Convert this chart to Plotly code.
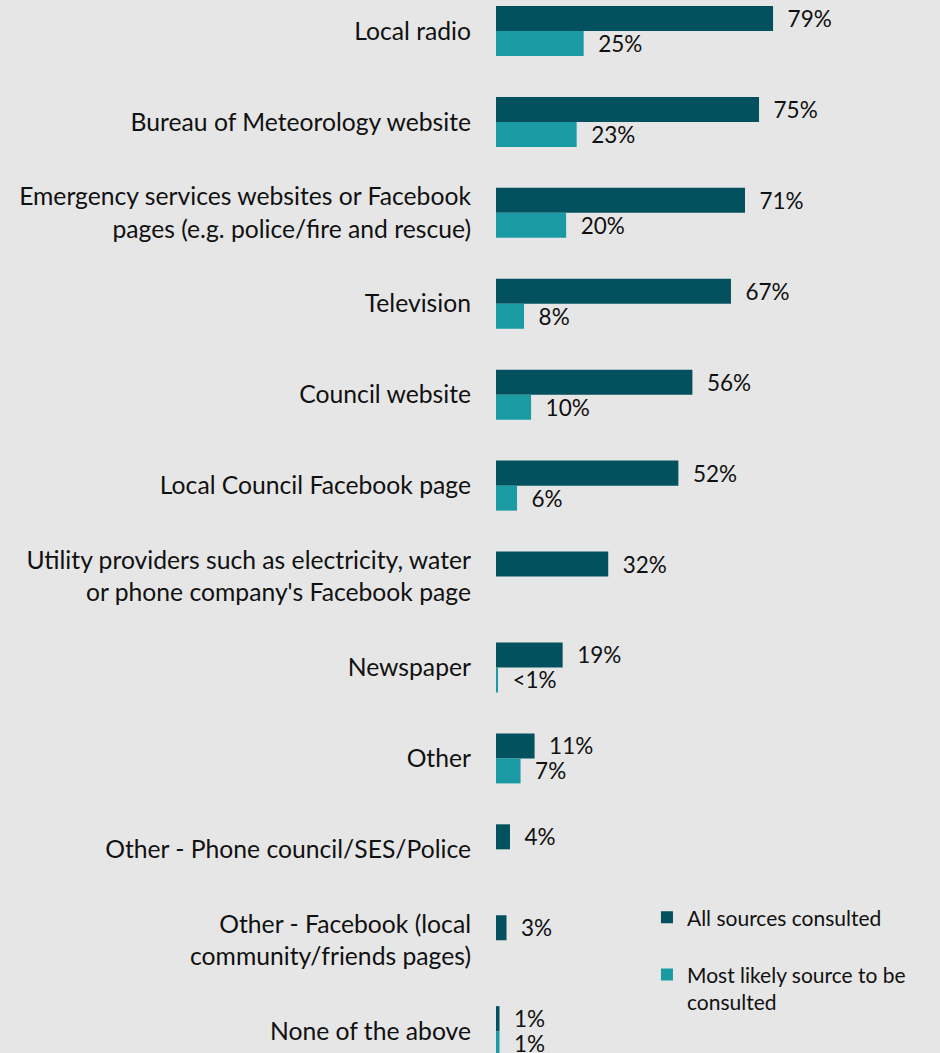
import plotly.graph_objects as go

# Information sources consulted during an emergency event
categories = [
    "Local radio",
    "Bureau of Meteorology website",
    "Emergency services websites or Facebook<br>pages (e.g. police/fire and rescue)",
    "Television",
    "Council website",
    "Local Council Facebook page",
    "Utility providers such as electricity, water<br>or phone company's Facebook page",
    "Newspaper",
    "Other",
    "Other - Phone council/SES/Police",
    "Other - Facebook (local<br>community/friends pages)",
    "None of the above",
]
all_sources = [79, 75, 71, 67, 56, 52, 32, 19, 11, 4, 3, 1]
most_likely = [25, 23, 20, 8, 10, 6, None, 0.5, 7, None, None, 1]
most_likely_labels = ["25%", "23%", "20%", "8%", "10%", "6%", "", "<1%", "7%", "", "", "1%"]

DARK = "#03505F"
LIGHT = "#1A9BA4"
BG = "#E6E6E6"
FONT = "Lato"
PAD = "\u00a0" * 2

ypos = list(range(len(categories)))

fig = go.Figure()
fig.add_trace(go.Bar(
    name="All sources consulted",
    y=ypos, x=all_sources, orientation="h",
    marker=dict(color=DARK, line=dict(width=0)),
    text=[f"{PAD}{v}%" for v in all_sources],
    textposition="outside", constraintext="none", cliponaxis=False,
    textfont=dict(family=FONT, size=22.5, color="#111111"),
    legendgroup="a",
))
fig.add_trace(go.Bar(
    name="Most likely source to be<br>consulted",
    y=ypos, x=most_likely, orientation="h",
    marker=dict(color=LIGHT, line=dict(width=0)),
    text=[f"{PAD}{t}" if t else "" for t in most_likely_labels],
    textposition="outside", constraintext="none", cliponaxis=False,
    textfont=dict(family=FONT, size=22.5, color="#111111"),
    legendgroup="b",
))

fig.update_layout(
    width=940, height=1053,
    margin=dict(l=496, r=0, t=0, b=0),
    paper_bgcolor=BG, plot_bgcolor=BG,
    barmode="group", bargap=0.45, bargroupgap=0,
    font=dict(family=FONT, size=24, color="#111111"),
    showlegend=True,
    legend=dict(
        x=0.34, y=0.148, xanchor="left", yanchor="top",
        bgcolor="rgba(0,0,0,0)", valign="top",
        font=dict(family=FONT, size=21, color="#111111"),
        tracegroupgap=27, traceorder="grouped",
    ),
    xaxis=dict(range=[0, 126.6], visible=False, fixedrange=True),
    yaxis=dict(
        range=[11.24, -0.341],
        tickmode="array", tickvals=ypos, ticktext=categories,
        showgrid=False, zeroline=False, showline=False,
        ticks="", ticklabelstandoff=24,
        tickfont=dict(family=FONT, size=24.7, color="#111111"),
    ),
)

fig.write_html("out.html")
